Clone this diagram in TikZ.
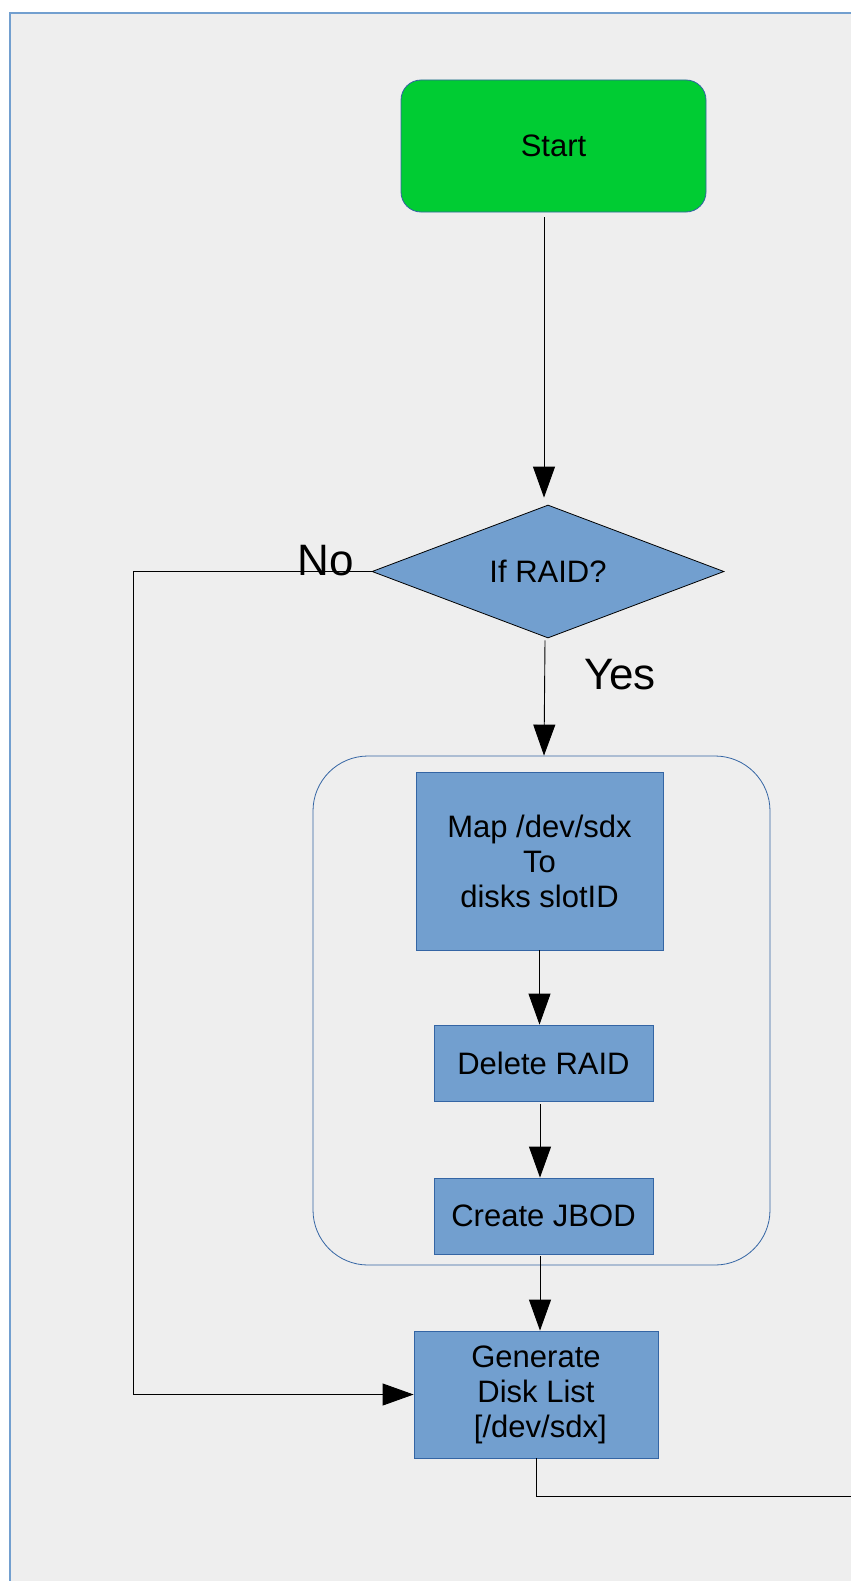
\documentclass[tikz,border=0pt]{standalone}
\usepackage{fontspec}
\setmainfont{Liberation Sans}
\usetikzlibrary{shapes.geometric,arrows.meta,calc}
\definecolor{bg}{HTML}{EEEEEE}
\definecolor{boxfill}{HTML}{729FCF}
\definecolor{boxline}{HTML}{3465A4}
\definecolor{startfill}{HTML}{00CC33}
\begin{document}
\begin{tikzpicture}[x=1pt,y=-1pt,
  txt/.style={font=\fontsize{31}{35}\selectfont, align=center, text=black},
  procbox/.style={txt, draw=boxline, fill=boxfill, line width=0.8pt, inner sep=0pt},
  arr/.style={draw=black, line width=0.9pt, -{Triangle[length=31pt,width=22pt]}},
  plain/.style={draw=black, line width=0.9pt},
  lbl/.style={font=\fontsize{44}{48}\selectfont, anchor=base, inner sep=0pt}]
\useasboundingbox (0,0) rectangle (851,1581);
% background
\fill[bg] (10,13) rectangle (851,1581);
\draw[boxfill, line width=1.5pt] (10,1581) -- (10,13) -- (851,13);
% nodes
\node[procbox, fill=startfill, rounded corners=20pt, minimum width=305pt, minimum height=132pt] (start) at (553.5,146) {Start};
\node[txt, diamond, draw=black, fill=boxfill, line width=0.8pt, inner sep=0pt, aspect=2.65, minimum width=352pt, minimum height=133pt] (dia) at (548,571.5) {If RAID?};
\node[draw=boxline, line width=0.8pt, rounded corners=55pt, minimum width=457pt, minimum height=509pt, inner sep=0pt] (grp) at (541.5,1010.5) {};
\node[procbox, minimum width=247pt, minimum height=178pt] (map) at (539.5,861) {Map /dev/sdx\\To\\disks slotID};
\node[procbox, minimum width=219pt, minimum height=76pt] (del) at (543.5,1063) {Delete RAID};
\node[procbox, minimum width=219pt, minimum height=76pt] (cre) at (543.5,1216) {Create JBOD};
\node[procbox, minimum width=244pt, minimum height=127pt] (gen) at (536,1394.5) {Generate\\Disk List\\{}\ [/dev/sdx]};
\node[lbl] (no) at (326,575) {No};
\node[lbl] (yes) at (620,689) {Yes};
\coordinate (out) at (851,1496);
% connectors
\draw[arr] ($(start.south)+(-9.5,5)$) -- ($(dia.north)+(-4,-7)$);
\draw[arr] ($(dia.south)+(-3,2)$) -- ($(grp.north)+(2.5,0)$);
\draw[arr] (dia.west) -- ++(-238,0) |- (gen.west);
\draw[arr] (map.south) -- (map.south |- del.north);
\draw[arr] ($(del.south)+(-3.5,3)$) -- ($(cre.north)+(-3.5,0)$);
\draw[arr] ($(cre.south)+(-3.5,2)$) -- ($(gen.north)+(4,0)$);
\draw[plain] (gen.south) -- (gen.south |- out) -- (out);
\end{tikzpicture}
\end{document}
